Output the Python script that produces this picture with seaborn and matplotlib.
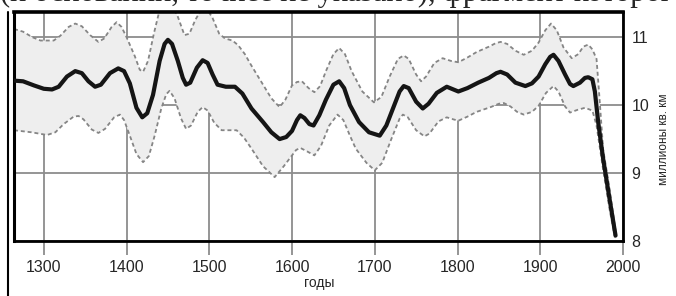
import numpy as np
import pandas as pd
import seaborn as sns
import matplotlib.pyplot as plt
from matplotlib.lines import Line2D

# values (millions of sq. km)
center_years = [1264, 1275, 1288, 1300, 1310, 1318, 1328, 1338, 1346, 1354, 1362, 1369,
                1380, 1390, 1397, 1404, 1412, 1419, 1425, 1432, 1440, 1446, 1450, 1455,
                1462, 1468, 1472, 1477, 1485, 1492, 1498, 1504, 1510, 1520, 1531, 1540,
                1551, 1565, 1575, 1585, 1593, 1600, 1606, 1610, 1615, 1621, 1626, 1633,
                1641, 1650, 1657, 1663, 1670, 1681, 1693, 1706, 1714, 1722, 1730, 1735,
                1741, 1750, 1758, 1765, 1775, 1787, 1795, 1801, 1812, 1825, 1838, 1847,
                1852, 1860, 1870, 1882, 1890, 1898, 1906, 1912, 1916, 1922, 1930, 1936,
                1940, 1948, 1954, 1958, 1963, 1966, 1970, 1976, 1984, 1991]
center_vals = [10.36, 10.35, 10.29, 10.24, 10.23, 10.27, 10.42, 10.50, 10.47, 10.35, 10.27, 10.30,
               10.47, 10.54, 10.50, 10.32, 9.96, 9.82, 9.88, 10.15, 10.65, 10.90, 10.96, 10.90,
               10.65, 10.40, 10.30, 10.33, 10.55, 10.66, 10.62, 10.45, 10.30, 10.27, 10.27, 10.17,
               9.95, 9.75, 9.60, 9.50, 9.53, 9.62, 9.78, 9.85, 9.81, 9.72, 9.70, 9.85,
               10.08, 10.30, 10.35, 10.25, 10.00, 9.75, 9.60, 9.55, 9.70, 9.95, 10.20, 10.28,
               10.25, 10.05, 9.95, 10.02, 10.18, 10.27, 10.23, 10.20, 10.25, 10.33, 10.40, 10.47,
               10.49, 10.45, 10.33, 10.28, 10.32, 10.42, 10.60, 10.71, 10.74, 10.65, 10.45, 10.31,
               10.28, 10.33, 10.40, 10.41, 10.38, 10.20, 9.75, 9.21, 8.60, 8.08]

upper_years = [1264, 1275, 1286, 1296, 1312, 1320, 1330, 1338, 1346, 1356, 1366, 1373,
               1382, 1388, 1394, 1400, 1410, 1416, 1420, 1426, 1433, 1440, 1452, 1462,
               1470, 1476, 1483, 1490, 1497, 1504, 1512, 1519, 1528, 1535, 1543, 1550,
               1563, 1575, 1585, 1592, 1600, 1606, 1612, 1620, 1627, 1634, 1641, 1650,
               1657, 1664, 1672, 1685, 1699, 1708, 1718, 1728, 1735, 1741, 1750, 1756,
               1762, 1772, 1782, 1792, 1801, 1812, 1823, 1838, 1846, 1852, 1860, 1870,
               1880, 1890, 1898, 1906, 1913, 1920, 1928, 1938, 1946, 1952, 1958, 1963,
               1968, 1971, 1976, 1984, 1991]
upper_vals = [11.12, 11.08, 11.00, 10.95, 10.95, 11.02, 11.15, 11.20, 11.16, 11.03, 10.93, 10.98,
              11.15, 11.22, 11.15, 11.00, 10.72, 10.52, 10.49, 10.65, 11.05, 11.40, 11.55, 11.30,
              11.03, 11.05, 11.25, 11.40, 11.42, 11.28, 11.05, 10.98, 10.95, 10.88, 10.75, 10.60,
              10.34, 10.10, 9.97, 10.08, 10.29, 10.34, 10.35, 10.25, 10.19, 10.28, 10.50, 10.75,
              10.84, 10.75, 10.50, 10.20, 10.04, 10.12, 10.42, 10.68, 10.73, 10.68, 10.45, 10.35,
              10.42, 10.62, 10.69, 10.65, 10.63, 10.70, 10.78, 10.86, 10.91, 10.93, 10.90, 10.80,
              10.74, 10.80, 10.92, 11.10, 11.20, 11.10, 10.85, 10.69, 10.75, 10.86, 10.89, 10.82,
              10.68, 10.20, 9.35, 8.75, 8.15]

lower_years = [1264, 1285, 1304, 1314, 1324, 1336, 1342, 1348, 1358, 1366, 1374, 1385,
               1392, 1397, 1404, 1412, 1420, 1427, 1434, 1442, 1448, 1452, 1458, 1466,
               1472, 1478, 1486, 1492, 1498, 1506, 1515, 1533, 1542, 1551, 1565, 1579,
               1590, 1600, 1605, 1610, 1618, 1627, 1635, 1645, 1655, 1662, 1670, 1677,
               1690, 1700, 1709, 1720, 1730, 1734, 1740, 1750, 1760, 1766, 1777, 1787,
               1795, 1801, 1812, 1823, 1840, 1850, 1856, 1864, 1872, 1880, 1890, 1898,
               1907, 1916, 1922, 1930, 1936, 1945, 1954, 1963, 1968, 1976, 1984, 1991]
lower_vals = [9.63, 9.60, 9.56, 9.60, 9.72, 9.83, 9.84, 9.79, 9.64, 9.59, 9.65, 9.82,
              9.86, 9.78, 9.55, 9.28, 9.16, 9.25, 9.55, 9.95, 10.16, 10.21, 10.10, 9.80,
              9.65, 9.70, 9.90, 9.97, 9.92, 9.74, 9.63, 9.63, 9.52, 9.36, 9.10, 8.94,
              9.10, 9.26, 9.34, 9.37, 9.32, 9.26, 9.40, 9.70, 9.86, 9.78, 9.55, 9.36,
              9.15, 9.04, 9.15, 9.50, 9.80, 9.86, 9.82, 9.63, 9.54, 9.58, 9.76, 9.82,
              9.79, 9.77, 9.83, 9.90, 9.97, 10.02, 10.03, 9.98, 9.90, 9.86, 9.90, 9.99,
              10.18, 10.28, 10.20, 9.98, 9.89, 9.93, 9.96, 9.92, 9.70, 9.05, 8.45, 8.00]

x_ticks = [1300, 1400, 1500, 1600, 1700, 1800, 1900, 2000]
y_ticks = [8, 9, 10, 11]

center = pd.DataFrame({"year": center_years, "area": center_vals})
upper = pd.DataFrame({"year": upper_years, "area": upper_vals})
lower = pd.DataFrame({"year": lower_years, "area": lower_vals})

sns.set_style("whitegrid", {"grid.color": "#8c8c8c", "axes.edgecolor": "black"})
plt.rcParams["font.family"] = ["Liberation Sans", "DejaVu Sans"]

fig = plt.figure(figsize=(6.76, 2.96), dpi=100)
ax = fig.add_axes([0.0207, 0.1858, 0.9009, 0.7737])

# uncertainty band
ax.fill(upper_years + lower_years[::-1], upper_vals + lower_vals[::-1],
        color="#eeeeee", lw=0, zorder=1)
sns.lineplot(data=upper, x="year", y="area", ax=ax, color="#858585", lw=1.3,
             linestyle=(0, (2.2, 1.6)), zorder=2)
sns.lineplot(data=lower, x="year", y="area", ax=ax, color="#858585", lw=1.3,
             linestyle=(0, (2.2, 1.6)), zorder=2)
sns.lineplot(data=center, x="year", y="area", ax=ax, color="#151515", lw=3.0, zorder=3)

ax.set_xlim(1264, 2000)
ax.set_ylim(8, 11.37)
ax.set_xticks(x_ticks)
ax.set_yticks(y_ticks)
ax.grid(True, color="#8c8c8c", lw=1.3)
ax.set_axisbelow(True)
ax.set_xlabel("")
ax.set_ylabel("")

ax.yaxis.tick_right()
ax.tick_params(axis="x", length=10, width=1.3, color="#8c8c8c", pad=4, labelsize=11.5)
ax.tick_params(axis="y", length=0, pad=6, labelsize=11.5)
ax.xaxis.set_ticks_position("bottom")

for side, w in [("left", 2.2), ("top", 2.6), ("bottom", 2.0), ("right", 2.0)]:
    ax.spines[side].set_visible(True)
    ax.spines[side].set_color("black")
    ax.spines[side].set_linewidth(w)

fig.text(0.472, 0.045, "годы", ha="center", va="center", fontsize=10)
fig.text(0.982, 0.53, "миллионы кв. км", rotation=90, ha="center", va="center", fontsize=8.5)

# scanned page: partial text line above and the page border on the left
fig.text(0.0, 0.995, "(и основании, точнее не указано), фрагмент которого",
         family=["Liberation Serif", "DejaVu Serif"], fontsize=22, va="baseline", ha="left")
fig.add_artist(Line2D([0.012, 0.012], [0.0, 0.96], transform=fig.transFigure,
                      color="black", lw=1.5))

fig.savefig("out.png", dpi=100)
